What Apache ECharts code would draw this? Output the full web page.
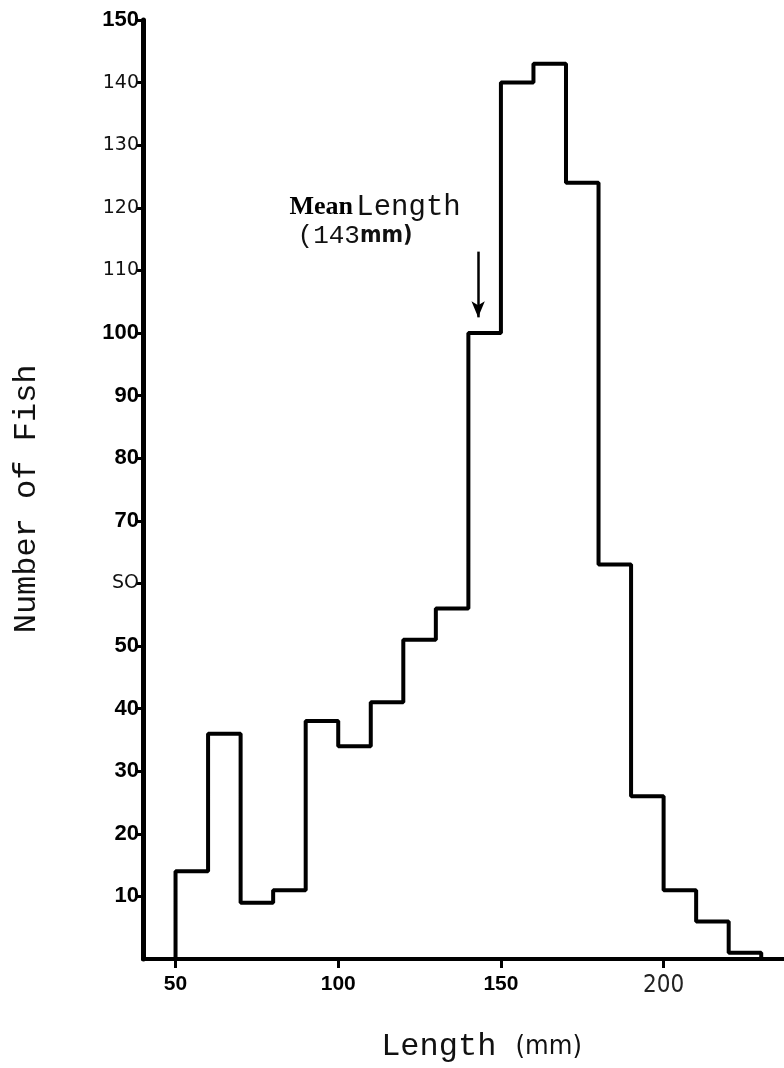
<!DOCTYPE html>
<html>
<head>
<meta charset="utf-8">
<script src="https://cdn.jsdelivr.net/npm/echarts@6/dist/echarts.min.js"></script>
<style>
  html, body { margin: 0; padding: 0; background: #fff; }
  #chart { width: 784px; height: 1068px; }
</style>
</head>
<body>
<div id="chart"></div>
<script>
// Length-frequency histogram: 10 mm length classes
const binStarts = [50, 60, 70, 80, 90, 100, 110, 120, 130, 140, 150, 160, 170, 180, 190, 200, 210, 220];
const fishCounts = [14, 36, 9, 11, 38, 34, 41, 51, 56, 100, 140, 143, 124, 63, 26, 11, 6, 1];
const binWidth = 10;

// axis ticks and their printed labels
const xTickValues = [50, 100, 150, 200];
const xTickText = ['50', '100', '150', '200'];
const yTickValues = [10, 20, 30, 40, 50, 60, 70, 80, 90, 100, 110, 120, 130, 140, 150];
const yTickText = ['10', '20', '30', '40', '50', 'SO', '70', '80', '90', '100', '110', '120', '130', '140', '150'];

// mean length marker
const meanLength = 143;
const meanLabel = ['Mean', 'Length', '(143', 'mm)'];

// outline of the histogram as a closed step path
const outline = [[binStarts[0], 0]];
binStarts.forEach((s, i) => {
  outline.push([s, fishCounts[i]]);
  outline.push([s + binWidth, fishCounts[i]]);
});
outline.push([binStarts[binStarts.length - 1] + binWidth, 0]);

const lightY = new Set([60, 110, 120, 130, 140]);

const chart = echarts.init(document.getElementById('chart'), null, { renderer: 'canvas' });

chart.setOption({
  animation: false,
  backgroundColor: '#fff',
  grid: { left: 143, right: 0, top: 20, bottom: 93, containLabel: false },
  xAxis: {
    type: 'value',
    min: 40,
    max: 237,
    splitLine: { show: false },
    axisLine: { show: true, onZero: false, lineStyle: { color: '#000', width: 4 } },
    axisTick: { show: true, customValues: xTickValues, length: 9, lineStyle: { color: '#000', width: 3 } },
    axisLabel: {
      customValues: xTickValues,
      margin: 15,
      formatter: v => {
        const t = xTickText[xTickValues.indexOf(v)];
        return v === 200 ? '{c|' + t + '}' : '{b|' + t + '}';
      },
      rich: {
        b: { fontFamily: 'Liberation Sans', fontWeight: 'bold', fontSize: 21, color: '#000' },
        c: { fontFamily: 'DejaVu Sans Condensed', fontSize: 24, color: '#222' }
      }
    },
    name: 'Length {u|(mm)}',
    nameLocation: 'middle',
    nameGap: 72,
    nameTextStyle: {
      fontFamily: 'Liberation Mono', fontSize: 32, color: '#111',
      padding: [0, 0, 0, 36],
      rich: { u: { fontFamily: 'DejaVu Sans Condensed', fontSize: 27, color: '#111' } }
    }
  },
  yAxis: {
    type: 'value',
    min: 0,
    max: 150,
    interval: 10,
    splitLine: { show: false },
    axisLine: { show: true, lineStyle: { color: '#000', width: 5 } },
    axisTick: { show: true, customValues: yTickValues, length: 6, lineStyle: { color: '#000', width: 3 } },
    axisLabel: {
      customValues: yTickValues,
      margin: 4,
      formatter: v => {
        const i = yTickValues.indexOf(v);
        if (i < 0) return '';
        return (lightY.has(v) ? '{n|' : '{b|') + yTickText[i] + '}';
      },
      rich: {
        b: { fontFamily: 'Liberation Sans', fontWeight: 'bold', fontSize: 22, color: '#000' },
        n: { fontFamily: 'DejaVu Sans', fontSize: 19, color: '#111' }
      }
    }
  },
  series: [{
    type: 'line',
    data: outline,
    showSymbol: false,
    symbol: 'none',
    lineStyle: { color: '#000', width: 4 },
    z: 3
  }, {
    type: 'line',
    data: [],
    markLine: {
      silent: true,
      symbol: ['none', 'arrow'],
      symbolSize: [10, 16],
      label: { show: false },
      lineStyle: { color: '#000', width: 2.5, type: 'solid' },
      data: [[{ coord: [meanLength, 113] }, { coord: [meanLength, 102.5] }]]
    }
  }]
});

// annotation text anchored to data coordinates
const p1 = chart.convertToPixel({ gridIndex: 0 }, [85, 119.8]);
const p2 = chart.convertToPixel({ gridIndex: 0 }, [87.5, 115]);
// vertical axis title, centred a little below the plot's mid-height
const yTitlePos = chart.convertToPixel({ gridIndex: 0 }, [40, 73.5]);
chart.setOption({
  graphic: [{
    type: 'text',
    left: p1[0], top: p1[1] - 16,
    style: {
      text: '{m|' + meanLabel[0] + '} {l|' + meanLabel[1] + '}',
      rich: {
        m: { fontFamily: 'Liberation Serif', fontWeight: 'bold', fontSize: 26, fill: '#000' },
        l: { fontFamily: 'Liberation Mono', fontSize: 29, fill: '#111' }
      }
    }
  }, {
    type: 'text',
    left: p2[0], top: p2[1] - 16,
    style: {
      text: '{l|' + meanLabel[2] + '}{m|' + meanLabel[3] + '}',
      rich: {
        l: { fontFamily: 'Liberation Mono', fontSize: 26, fill: '#111' },
        m: { fontFamily: 'DejaVu Sans Condensed', fontWeight: 'bold', fontSize: 23, fill: '#111' }
      }
    }
  }, {
    type: 'text',
    x: 27, y: yTitlePos[1],
    rotation: Math.PI / 2,
    style: {
      text: 'Number of Fish',
      fontFamily: 'Liberation Mono', fontSize: 32, fill: '#111',
      align: 'center', verticalAlign: 'middle'
    }
  }]
});
</script>
</body>
</html>
